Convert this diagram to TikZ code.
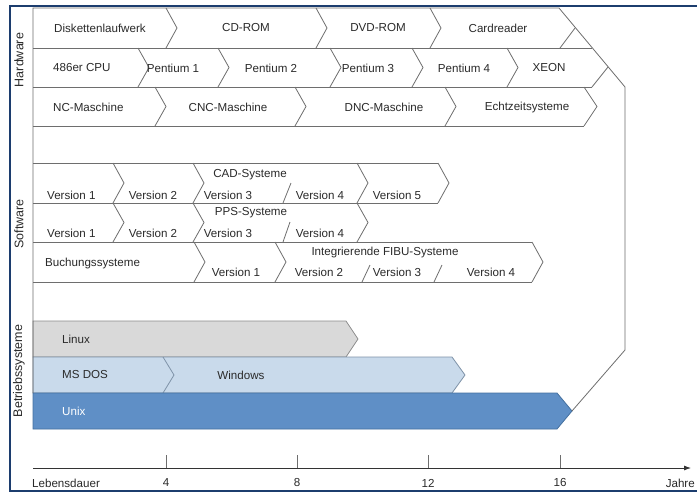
\documentclass[tikz,border=0pt]{standalone}
\usepackage{fontspec}
\setmainfont{Liberation Sans}
\usetikzlibrary{arrows.meta}
\definecolor{frameblue}{HTML}{1C3D6E}
\definecolor{linegray}{HTML}{6E6E6E}
\definecolor{txtgray}{HTML}{2A2A2A}
\definecolor{linuxfill}{HTML}{D9D9D9}
\definecolor{linuxline}{HTML}{8C8C8C}
\definecolor{dosfill}{HTML}{C9DAEB}
\definecolor{dosline}{HTML}{7F93A8}
\definecolor{unixfill}{HTML}{5F8FC6}
\definecolor{unixline}{HTML}{44709F}
\newcommand\chevr[3]{\draw[ln] (#1,#2) -- ({#1+11},{(#2+#3)/2}) -- (#1,#3);}
\begin{document}
\begin{tikzpicture}[x=1pt,y=-1pt,line join=miter,
  ln/.style={draw=linegray,line width=0.8pt},
  lbl/.style={font=\fontsize{11.6}{12}\selectfont,inner sep=0pt,text=txtgray},
  lbll/.style={lbl,anchor=west},
  side/.style={font=\fontsize{12.5}{13}\selectfont,rotate=90,inner sep=0pt,text=txtgray}]
\clip (0,0) rectangle (697,493);
\fill[white] (0,0) rectangle (697,493);
\draw[frameblue,line width=2pt] (10,6) rectangle (740,491);

% OS bars
\draw[draw=linuxline,fill=linuxfill,line width=0.8pt] (33,321) -- (346,321) -- (358,339) -- (346,357) -- (33,357) -- cycle;
\draw[draw=dosline,fill=dosfill,line width=0.8pt] (33,357) -- (452,357) -- (465,375) -- (452,393) -- (33,393) -- cycle;
\draw[dosline,line width=0.8pt] (163,357) -- (174,375) -- (163,393);
\draw[draw=unixline,fill=unixfill,line width=0.8pt] (33,393) -- (557,393) -- (572,411) -- (557,429) -- (33,429) -- cycle;

% outer outline
\draw[ln] (33,393) -- (33,8) -- (559,8) -- (625,87) -- (625,350) -- (572,411);

% hardware rows
\draw[ln] (33,48) -- (592,48);
\draw[ln] (33,87) -- (592,87);
\draw[ln] (33,126) -- (584,126);
\chevr{166}{8}{48}
\chevr{316}{8}{48}
\chevr{430}{8}{48}
\draw[ln] (575,28) -- (560,48);
\chevr{138}{48}{87}
\chevr{218}{48}{87}
\chevr{330}{48}{87}
\chevr{412}{48}{87}
\chevr{507}{48}{87}
\draw[ln] (608,67) -- (592,87);
\chevr{155}{87}{126}
\chevr{295}{87}{126}
\chevr{445}{87}{126}
\draw[ln] (584,87) -- (597,106.5) -- (584,126);

% software rows
\draw[ln] (33,163) -- (438,163);
\draw[ln] (33,203) -- (438,203);
\draw[ln] (33,242) -- (532,242);
\draw[ln] (33,282) -- (532,282);
\chevr{113}{163}{203}
\chevr{193}{163}{203}
\chevr{357}{163}{203}
\chevr{438}{163}{203}
\draw[ln] (291,183) -- (283,203);
\chevr{113}{203}{242}
\chevr{193}{203}{242}
\chevr{357}{203}{242}
\draw[ln] (290,222) -- (283,242);
\chevr{194}{242}{282}
\chevr{275}{242}{282}
\chevr{532}{242}{282}
\draw[ln] (370,265) -- (362,282);
\draw[ln] (442,265) -- (434,282);

% axis
\coordinate (axs) at (33,468);
\coordinate (axe) at (691,468);
\draw[draw=black!80,line width=0.8pt,-{Latex[length=7pt,width=5pt]}] (axs) -- (axe);
\foreach \n/\x in {t4/166,t8/297,t12/428,t16/560}{
  \coordinate (\n a) at (\x,455);
  \coordinate (\n b) at (\x,468);
  \draw[linegray,line width=0.8pt] (\n a) -- (\n b);
}

% labels
\node[side] (hw) at (19,60) {Hardware};
\node[side] (sw) at (19,224) {Software};
\node[side] (bs) at (19,371) {Betriebssysteme};

\node[lbll] (disk) at (54,28) {Diskettenlaufwerk};
\node[lbl] (cd) at (246,28) {CD-ROM};
\node[lbl] (dvd) at (378,28) {DVD-ROM};
\node[lbl] (card) at (498,28) {Cardreader};

\node[lbll] (cpu) at (53,68) {486er CPU};
\node[lbl] (p1) at (173,68) {Pentium 1};
\node[lbl] (p2) at (271,68) {Pentium 2};
\node[lbl] (p3) at (368,68) {Pentium 3};
\node[lbl] (p4) at (464,68) {Pentium 4};
\node[lbl] (xeon) at (549,68) {XEON};

\node[lbll] (nc) at (53,107) {NC-Maschine};
\node[lbl] (cnc) at (228,107) {CNC-Maschine};
\node[lbl] (dnc) at (384,107) {DNC-Maschine};
\node[lbl] (echt) at (527,107) {Echtzeitsysteme};

\node[lbl] (cad) at (250,175) {CAD-Systeme};
\node[lbll] (c1) at (47,195) {Version 1};
\node[lbl] (c2) at (153,195) {Version 2};
\node[lbl] (c3) at (228,195) {Version 3};
\node[lbl] (c4) at (320,195) {Version 4};
\node[lbl] (c5) at (397,195) {Version 5};

\node[lbl] (pps) at (251,213) {PPS-Systeme};
\node[lbll] (q1) at (47,233) {Version 1};
\node[lbl] (q2) at (153,233) {Version 2};
\node[lbl] (q3) at (228,233) {Version 3};
\node[lbl] (q4) at (320,233) {Version 4};

\node[lbll] (buch) at (45,263) {Buchungssysteme};
\node[lbl] (fibu) at (385,252) {Integrierende FIBU-Systeme};
\node[lbl] (f1) at (236,272) {Version 1};
\node[lbl] (f2) at (319,272) {Version 2};
\node[lbl] (f3) at (397,272) {Version 3};
\node[lbl] (f4) at (491,272) {Version 4};

\node[lbll] (linux) at (62,339) {Linux};
\node[lbll] (msdos) at (62,375) {MS DOS};
\node[lbl] (win) at (241,375) {Windows};
\node[lbll,text=white] (unix) at (62,411) {Unix};

\node[lbll] (leb) at (32,483) {Lebensdauer};
\node[lbl] (n4) at (166,483) {4};
\node[lbl] (n8) at (297,483) {8};
\node[lbl] (n12) at (428,483) {12};
\node[lbl] (n16) at (560,483) {16};
\node[lbl,anchor=east] (jahr) at (695,483) {Jahre};
\end{tikzpicture}
\end{document}
